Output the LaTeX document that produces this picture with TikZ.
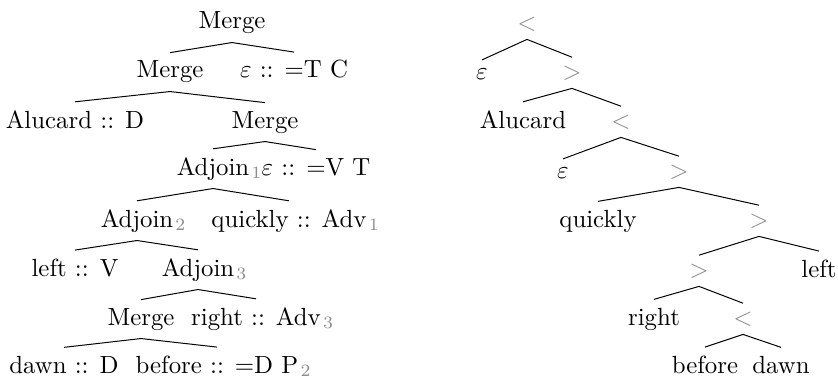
\documentclass[tikz,border=0pt]{standalone}
\usepackage{xcolor}
\definecolor{subgray}{gray}{0.55}
\newcommand{\gsub}[1]{\rlap{\kern0.9pt\textcolor{subgray}{$_{#1}$}}}
\begin{document}
\begin{tikzpicture}[x=0.4032pt,y=-0.4032pt,
  every node/.style={inner sep=3.2pt, anchor=base},
  sym/.style={text=subgray},
  edge/.style={line width=0.4pt}]
\useasboundingbox (0,0) rectangle (838,378);
% ---------- left tree ----------
\node (m1) at (232,29) {Merge};
\node (m2) at (170,78) {Merge};
\node (etc) at (294,78) {$\varepsilon$ :: $=$T C};
\node (alu) at (75,128) {Alucard :: D};
\node (m3) at (265,128) {Merge};
\node (a1) at (213,175) {Adjoin\gsub{1}};
\node (evt) at (316,175) {$\varepsilon$ :: $=$V T};
\node (a2) at (137,227) {Adjoin\gsub{2}};
\node (qa) at (289,227) {quickly :: Adv\gsub{1}};
\node (lv) at (75,276) {left :: V};
\node (a3) at (198,276) {Adjoin\gsub{3}};
\node (m4) at (141,325) {Merge};
\node (ra) at (256,325) {right :: Adv\gsub{3}};
\node (dd) at (64,373) {dawn :: D};
\node (bdp) at (217,373) {before :: $=$D P\gsub{2}};
\foreach \p/\c in {m1/m2,m1/etc,m2/alu,m2/m3,m3/a1,m3/evt,a1/a2,a1/qa,a2/lv,a2/a3,a3/m4,a3/ra,m4/dd,m4/bdp}
  \draw[edge] (\p.south) -- (\c.north);
% ---------- right tree ----------
\node[sym] (r1) at (527,30) {$<$};
\node (e1) at (482,79) {$\varepsilon$};
\node[sym] (r2) at (572,79) {$>$};
\node (ralu) at (523,128) {Alucard};
\node[sym] (r3) at (621,128) {$<$};
\node (e2) at (563,178) {$\varepsilon$};
\node[sym] (r4) at (679,178) {$>$};
\node (rq) at (598,227) {quickly};
\node[sym] (r5) at (759,227) {$>$};
\node[sym] (r6) at (699,277) {$>$};
\node (rl) at (819,277) {left};
\node (rr) at (654,325) {right};
\node[sym] (r7) at (743,325) {$<$};
\node (rb) at (705,373) {before};
\node (rd) at (781,373) {dawn};
\foreach \p/\c in {r1/e1,r1/r2,r2/ralu,r2/r3,r3/e2,r3/r4,r4/rq,r4/r5,r5/r6,r5/rl,r6/rr,r6/r7,r7/rb,r7/rd}
  \draw[edge] (\p.south) -- (\c.north);
\end{tikzpicture}
\end{document}
